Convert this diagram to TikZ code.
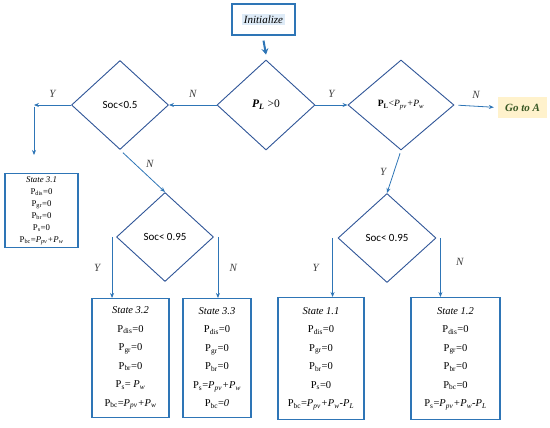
\documentclass[tikz,border=0pt]{standalone}
\usepackage{fontspec}
\setmainfont{Liberation Serif}
\newfontfamily\socfont{Carlito}
\usetikzlibrary{arrows.meta,shapes.geometric,calc}

\definecolor{linkblue}{HTML}{2E75B6}
\definecolor{edgeblue}{HTML}{2F5597}
\definecolor{initshade}{HTML}{DEEBF7}
\definecolor{gotofill}{HTML}{FFF2CC}
\definecolor{gotogreen}{HTML}{385723}
\definecolor{labelgray}{HTML}{404040}

\newcommand{\sub}[1]{\textsubscript{#1}}

\begin{document}
\begin{tikzpicture}[x=1pt, y=-1pt, >={Stealth[length=5pt,width=4pt]},
  cond/.style={diamond, draw=edgeblue, line width=0.9pt, inner sep=0pt},
  statebox/.style={draw=linkblue, line width=1.2pt, anchor=north, align=center, inner sep=0pt,
    font=\fontsize{10.5}{18.5}\selectfont},
  link/.style={->, linkblue, line width=0.8pt},
  yn/.style={font=\fontsize{11}{13}\selectfont\itshape, text=labelgray}]
  \useasboundingbox (0,0) rectangle (550,428);

  % start
  \node[draw=linkblue, line width=1.2pt, minimum width=63pt, minimum height=31pt] (init) at (263.5,19.5) {};
  \node[fill=initshade, inner sep=2pt, font=\fontsize{11}{13}\selectfont\itshape] (inittxt) at (init) {Initialize};

  % decisoes
  \node[cond, minimum width=98pt, minimum height=90pt, font=\fontsize{11.5}{13}\selectfont] (d0) at (266,105) {\textbf{\textit{P\sub{L}}} >0};
  \node[cond, minimum width=97pt, minimum height=89pt, font=\fontsize{11}{13}\socfont] (dsoc) at (120,105) {Soc<0.5};
  \node[cond, minimum width=106pt, minimum height=90pt, font=\fontsize{9.6}{11}\selectfont] (dpl) at (401,105) {\textbf{P\sub{L}}<\textit{P\sub{pv}+P\sub{w}}};
  \node[cond, minimum width=97pt, minimum height=89pt, font=\fontsize{11}{13}\socfont] (ds1) at (165,237) {Soc< 0.95};
  \node[cond, minimum width=98pt, minimum height=89pt, font=\fontsize{11}{13}\socfont] (ds2) at (387,238) {Soc< 0.95};

  \node[fill=gotofill, minimum width=49pt, minimum height=21pt, text=gotogreen,
    font=\fontsize{11}{13}\selectfont\bfseries\itshape] (goA) at (522.5,107.5) {Go to A};

  % estados
  \node[statebox, minimum width=73pt, minimum height=74pt, font=\fontsize{8.8}{12}\selectfont] (s31) at (41.5,173)
    {\textit{State 3.1}\\P\sub{dis}=0\\P\sub{gr}=0\\P\sub{br}=0\\P\sub{s}=0\\P\sub{bc}=\textit{P\sub{pv}+P\sub{w}}};
  \node[statebox, minimum width=77pt, minimum height=119pt] (s32) at (130.5,298)
    {\textit{State 3.2}\\P\sub{dis}=0\\P\sub{gr}=0\\P\sub{br}=0\\P\sub{s}= \textit{P\sub{w}}\\P\sub{bc}=\textit{P\sub{pv}+P\sub{w}}};
  \node[statebox, minimum width=68pt, minimum height=119pt] (s33) at (217,298)
    {\textit{State 3.3}\\P\sub{dis}=0\\P\sub{gr}=0\\P\sub{br}=0\\P\sub{s}=\textit{P\sub{pv}+P\sub{w}}\\P\sub{bc}=\textit{0}};
  \node[statebox, minimum width=86pt, minimum height=122pt] (s11) at (321,297)
    {\textit{State 1.1}\\P\sub{dis}=0\\P\sub{gr}=0\\P\sub{br}=0\\P\sub{s}=0\\P\sub{bc}=\textit{P\sub{pv}+P\sub{w}-P\sub{L}}};
  \node[statebox, minimum width=89pt, minimum height=122pt] (s12) at (455.5,297)
    {\textit{State 1.2}\\P\sub{dis}=0\\P\sub{gr}=0\\P\sub{br}=0\\P\sub{bc}=0\\P\sub{s}=\textit{P\sub{pv}+P\sub{w}-P\sub{L}}};

  \coordinate (c31) at (34,105);
  \coordinate (c31b) at (34,155);

  % ligacoes
  \draw[->, linkblue, line width=2pt, >={Stealth[length=6pt,width=7pt]}] ([yshift=-5pt]init.south) -- ([yshift=5pt]d0.north);
  \draw[link] (d0.west) -- (dsoc.east) node[yn, midway, above=4pt] {N};
  \draw[link] (dsoc.west) -- (c31) node[yn, midway, above=4pt] {Y};
  \draw[link] ([yshift=-2pt]c31) -- (c31b);
  \draw[link, shorten <=4pt] (dsoc.south) -- (ds1.north) node[yn, midway, above right=0pt] {N};
  \draw[link] ([xshift=-4pt]ds1.west) -- ([xshift=-4pt]ds1.west |- s32.north) node[yn, midway, left=8pt] {Y};
  \draw[link] ([xshift=4pt]ds1.east) -- ([xshift=4pt]ds1.east |- s33.north) node[yn, midway, right=8pt] {N};

  \draw[link] (d0.east) -- (dpl.west) node[yn, midway, above=4pt] {Y};
  \draw[link, shorten <=4pt, shorten >=4pt] (dpl.east) -- (goA.west) node[yn, midway, above=4pt] {N};
  \draw[link, shorten <=3pt] (dpl.south) -- (ds2.north) node[yn, midway, left=4pt] {Y};
  \draw[link] ([xshift=-5pt]ds2.west) -- ([xshift=-5pt]ds2.west |- s11.north) node[yn, midway, left=10pt] {Y};
  \draw[link] ([xshift=4pt]ds2.east) -- ([xshift=4pt]ds2.east |- s12.north) node[yn, pos=0.4, right=12pt] {N};
\end{tikzpicture}
\end{document}
